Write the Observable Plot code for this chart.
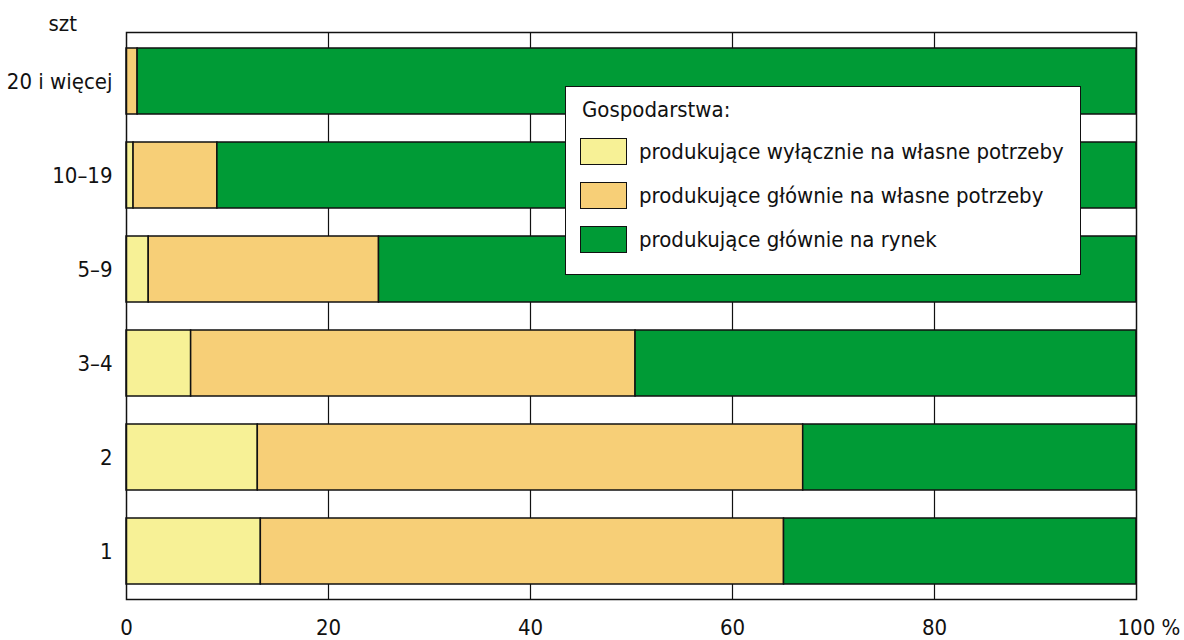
<!DOCTYPE html>
<html>
<head>
<meta charset="utf-8">
<script src="https://cdn.jsdelivr.net/npm/d3@7"></script>
<script src="https://cdn.jsdelivr.net/npm/@observablehq/plot@0.6"></script>
<style>
  html, body { margin: 0; padding: 0; background: #fff; }
  #wrap { position: relative; width: 1184px; height: 640px; font-family: "DejaVu Sans Condensed", "Liberation Sans Narrow", sans-serif; }
  #legend { position: absolute; left: 565px; top: 86px; width: 516px; height: 189px; background: #fff; border: 1.5px solid #111; box-sizing: border-box; color: #111; font-size: 22px; }
  #legend .title { position: absolute; left: 16px; top: 10px; line-height: 26px; white-space: nowrap; }
  #legend .row { position: absolute; left: 14px; display: flex; align-items: center; line-height: 26px; white-space: nowrap; }
  #legend .sw { width: 47px; height: 27px; border: 1.5px solid #111; box-sizing: border-box; margin-right: 12px; flex: none; }
</style>
</head>
<body>
<div id="wrap"></div>
<script>
const categories = ["20 i więcej", "10–19", "5–9", "3–4", "2", "1"];
const seriesNames = [
  "produkujące wyłącznie na własne potrzeby",
  "produkujące głównie na własne potrzeby",
  "produkujące głównie na rynek"
];
const seriesColors = ["#f7f196", "#f7cf77", "#009b36"];
const exclusivelyOwn = [0, 0.7, 2.2, 6.4, 13.0, 13.3];
const mainlyOwn = [1.1, 8.3, 22.8, 44.0, 54.0, 51.8];
const mainlyMarket = [98.9, 91.0, 75.0, 49.6, 33.0, 34.9];
const xTicks = [0, 20, 40, 60, 80];
const lastTick = [100];
const gridTicks = [20, 40, 60, 80];
const legendTitle = "Gospodarstwa:";
const yLabel = "szt";

const seriesValues = [exclusivelyOwn, mainlyOwn, mainlyMarket];
const data = [];
categories.forEach((c, i) => {
  seriesNames.forEach((s, j) => data.push({cat: c, series: s, value: seriesValues[j][i]}));
});

const font = '"DejaVu Sans Condensed", "Liberation Sans Narrow", sans-serif';

const chart = Plot.plot({
  width: 1184,
  height: 640,
  marginLeft: 126,
  marginRight: 48,
  marginTop: 32,
  marginBottom: 41,
  style: {fontFamily: font, fontSize: "22px", color: "#111", background: "#fff", overflow: "visible"},
  x: {domain: [0, 100]},
  y: {domain: categories, paddingInner: 0.3, paddingOuter: 0.15},
  color: {domain: seriesNames, range: seriesColors},
  marks: [
    Plot.gridX(gridTicks, {stroke: "#111", strokeOpacity: 1, strokeWidth: 1.2}),
    Plot.barX(data, Plot.stackX({x: "value", y: "cat", fill: "series", order: seriesNames, stroke: "#111", strokeWidth: 1.5})),
    Plot.frame({stroke: "#111", strokeWidth: 1.5}),
    Plot.axisX(xTicks, {tickSize: 0, tickPadding: 20, fontSize: 22, label: null}),
    Plot.axisX(lastTick, {tickSize: 0, tickPadding: 20, fontSize: 22, label: null, tickFormat: d => d + " %", textAnchor: "start", dx: -19}),
    Plot.axisY({tickSize: 0, tickPadding: 14, fontSize: 22, label: null}),
    Plot.text([yLabel], {text: d => d, frameAnchor: "top-left", textAnchor: "start", lineAnchor: "bottom", dx: -78, dy: -2, fontSize: 22, fill: "#111"})
  ]
});

const wrap = document.getElementById("wrap");
wrap.appendChild(chart);

const legend = document.createElement("div");
legend.id = "legend";
const t = document.createElement("div");
t.className = "title";
t.textContent = legendTitle;
legend.appendChild(t);
const rowTops = [51, 95, 139];
seriesNames.forEach((s, i) => {
  const r = document.createElement("div");
  r.className = "row";
  r.style.top = rowTops[i] + "px";
  const sw = document.createElement("div");
  sw.className = "sw";
  sw.style.background = seriesColors[i];
  const lab = document.createElement("span");
  lab.textContent = s;
  r.appendChild(sw);
  r.appendChild(lab);
  legend.appendChild(r);
});
wrap.appendChild(legend);
</script>
</body>
</html>
